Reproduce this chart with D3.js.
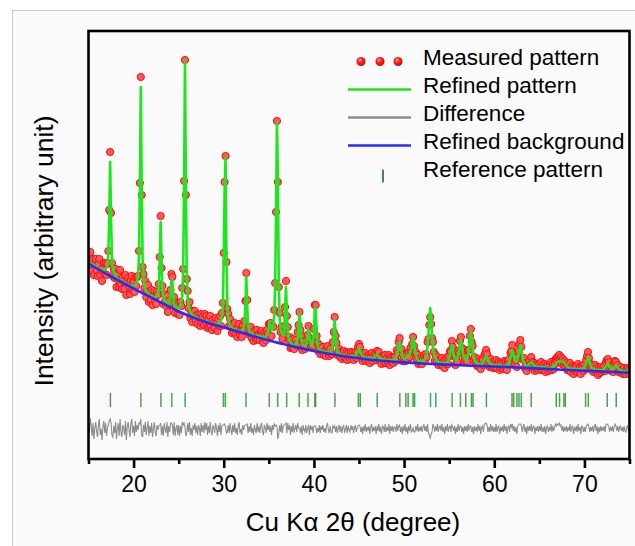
<!DOCTYPE html>
<html><head><meta charset="utf-8">
<script src="https://cdn.jsdelivr.net/npm/d3@7/dist/d3.min.js"></script>
<style>
html,body{margin:0;padding:0;background:#fff;}
svg{display:block;font-family:"Liberation Sans",Arial,sans-serif;}
</style></head><body>
<svg id="chart" width="635" height="546"></svg>
<script>
// ---------------- data (intensity in arbitrary units) ----------------
// scan: 2theta from 15.0 to 75.0 deg, step 0.1 deg
const scanStart = 15.0;
const scanStep = 0.1;

// refined (calculated) pattern, one value per scan step
const calcIntensity = [
167,166,166,165,165,164,164,163,163,162,
161,161,160,160,159,159,158,158,159,160,
161,164,174,211,267,210,172,161,157,155,
153,152,150,150,149,149,148,148,147,147,
146,146,145,145,144,144,143,143,143,143,
144,144,144,146,148,154,172,241,342,240,
170,151,144,141,138,137,136,134,134,133,
133,132,132,131,132,132,133,135,142,168,
207,167,140,132,129,128,127,126,125,125,
127,133,149,148,131,125,123,122,122,121,
121,121,124,127,134,156,242,367,241,154,
132,124,120,117,116,114,114,113,112,112,
111,111,110,110,110,109,109,109,108,108,
108,107,107,107,106,106,106,105,105,105,
105,105,105,105,106,106,107,109,113,122,
172,242,271,171,123,111,107,104,103,102,
101,100,100,99,99,98,98,98,98,98,
98,99,100,105,124,152,124,104,99,97,
96,95,95,94,94,93,93,93,93,92,
93,93,92,92,92,92,92,93,93,96,
101,108,103,99,99,103,114,143,213,306,
257,147,112,100,96,94,94,99,117,142,
117,96,90,88,87,86,84,84,84,84,
85,87,91,103,116,103,90,85,84,83,
83,84,86,93,100,93,86,83,84,87,
97,121,121,97,85,81,80,79,78,78,
78,77,77,77,77,77,77,77,77,78,
79,84,96,109,96,83,78,76,76,75,
74,74,74,74,74,73,73,73,73,73,
73,73,73,73,73,73,73,74,76,79,
81,79,76,74,73,72,72,71,71,71,
71,71,71,71,71,71,71,72,73,74,
75,74,72,71,70,70,70,70,69,69,
69,69,69,69,69,69,69,69,69,70,
70,71,74,78,84,87,83,78,73,71,
70,70,71,73,74,74,74,76,80,87,
91,86,79,74,71,69,68,68,68,68,
68,68,69,70,72,75,82,94,110,121,
110,94,82,75,71,71,69,67,67,67,
66,66,66,66,66,66,66,67,67,68,
71,75,80,84,80,75,71,69,69,70,
73,78,85,89,84,78,72,70,69,69,
70,74,81,90,97,90,81,74,69,68,
66,66,65,65,65,65,65,66,67,69,
71,73,71,69,67,65,65,64,64,64,
64,64,64,64,64,64,64,64,63,63,
63,63,63,64,64,65,66,68,71,76,
79,76,72,68,67,67,69,74,80,84,
79,73,68,66,64,64,63,63,64,65,
66,67,66,65,63,63,62,62,62,62,
62,62,62,62,62,62,62,62,61,61,
61,61,61,62,62,62,62,63,65,66,
67,67,68,68,68,67,67,67,66,65,
63,62,62,61,61,60,60,60,60,60,
60,60,60,60,60,60,60,60,60,61,
62,63,66,69,72,69,66,63,61,61,
60,60,59,59,59,59,59,59,59,59,
59,60,60,61,62,64,66,64,62,61,
60,60,60,61,63,64,63,61,60,59,
59,58,58,58,58,58,58,58,58,58,
58
];

// difference (measured - refined), one value per scan step
const diffIntensity = [
8,-4,11,3,-7,6,-10,1,7,-3,
-8,4,10,-6,0,-11,3,8,-4,6,
-7,1,4,8,10,6,-6,-8,3,-4,
7,-10,0,6,-7,10,-3,-8,4,1,
-6,8,-11,3,7,-1,-8,6,10,-4,
3,-7,8,-3,4,-1,6,5,10,-6,
-8,4,-3,7,-6,1,8,-7,3,-4,
6,-8,1,7,-4,-7,4,-1,3,4,
6,-6,3,-7,6,0,-4,7,-8,3,
-3,6,6,4,-6,7,-7,1,4,-6,
4,-7,3,-4,7,4,6,2,-7,-4,
6,-3,7,-6,1,-7,4,-1,6,-4,
3,-6,4,1,-7,6,-3,4,-4,7,
-1,6,-6,3,-4,7,-3,-6,4,1,
-4,6,1,-7,4,-3,6,-6,3,4,
4,5,2,-4,-3,4,-4,6,-1,-6,
4,-3,6,-4,1,-6,3,7,-4,0,
-6,4,-1,3,4,4,5,-4,3,-3,
6,-4,1,-6,4,-1,-4,6,-3,3,
-4,3,6,-3,-6,4,1,-4,6,-1,
4,-3,3,-6,4,-1,5,3,4,2,
-10,-5,4,-3,6,-4,3,4,5,6,
-4,6,-1,4,-6,3,-3,6,-4,1,
4,-3,6,1,1,-4,3,-6,4,-1,
-3,4,-4,1,3,-6,4,-1,3,-4,
3,3,3,-4,1,-3,4,-4,3,-1,
4,-3,1,-4,3,6,-1,-4,3,-3,
-4,3,1,3,-3,3,-4,1,4,-3,
3,-4,1,4,-3,-1,4,-4,3,-1,
-3,4,-1,3,-4,1,4,-3,1,3,
4,3,-3,2,-5,3,-2,5,-3,2,
-2,3,-5,2,5,-3,2,-2,3,-5,
3,-2,5,-3,2,-5,3,2,-3,5,
-3,2,-2,5,-5,3,-2,3,-3,2,
2,-3,5,-2,3,4,-3,2,-5,3,
-2,5,-3,2,-5,3,-2,5,-3,-2,
1,-3,-3,3,-2,5,-3,2,-2,3,
-3,2,5,-2,3,-3,5,-4,-6,-9,
-5,-3,5,2,-3,3,-2,5,-3,2,
3,-2,5,-3,2,-5,3,-2,5,-3,
2,3,-3,4,2,-2,3,-5,2,-3,
5,-2,3,3,-3,2,-5,3,-2,3,
-3,5,-2,3,3,-3,2,-5,3,-2,
2,-3,5,-2,3,-5,2,3,-3,5,
5,6,4,-3,2,-3,5,-2,3,-3,
2,-3,5,-3,2,3,-5,2,-2,3,
-3,5,-2,3,-5,2,3,-3,5,2,
5,-2,3,-3,2,-5,3,4,5,5,
3,-3,2,5,-3,2,-5,3,-2,3,
-2,5,-3,2,3,-5,2,-2,3,-3,
3,-2,5,-3,2,-3,3,-5,2,3,
-3,2,-2,5,-3,3,-2,2,5,3,
5,4,6,3,4,-2,3,-3,2,-2,
3,-3,2,-2,5,-3,2,3,-5,2,
-2,3,-3,5,-2,2,-5,3,2,-3,
2,-3,3,4,5,2,-3,2,-2,3,
-3,2,5,-2,3,-5,2,-3,3,-2,
2,-2,3,-3,5,5,4,3,-3,2,
-2,3,-3,2,5,3,-2,3,-3,2,
3,-2,2,-3,3,-2,-3,2,3,-2,
2
];

// refined background
const bgTheta = [15,17.5,20,22.5,25,27.5,30,32.5,35,37.5,40,42.5,45,47.5,50,52.5,55,57.5,60,62.5,65,67.5,70,72.5,75];
const bgIntensity = [165.5,152.5,140.5,129,117.5,108.5,101.5,95,88.5,83,78,74,70.8,68.3,66.6,65.3,64.3,63.3,62.5,61.5,60.5,59.3,58.3,57.2,56.3];

// reference pattern (Bragg positions)
const refTheta = [17.43,20.81,23.03,24.24,25.72,29.96,30.18,32.47,35.05,35.98,36.98,38.37,39.34,40.1,40.18,42.33,
  44.93,45.14,47.02,49.53,50.2,50.45,51.0,51.16,52.93,53.52,55.33,56.25,56.84,57.47,57.65,59.13,
  61.97,62.16,62.52,62.74,63.0,64.1,66.88,67.24,67.72,67.88,70.13,70.43,72.53,73.53];

const xMajorTicks = [20,30,40,50,60,70];
const xMinorTicks = [15,25,35,45,55,65,75];
const xDomain = [15,75];
const yDomain = [-30,398];
const legendLabels = ["Measured pattern","Refined pattern","Difference","Refined background","Reference pattern"];
const xTitle = "Cu K\u03b1 2\u03b8 (degree)";
const yTitle = "Intensity (arbitrary unit)";

// ---------------- drawing ----------------
const svg = d3.select("#chart");
const W = 635, H = 546;
const box = {left: 88.5, right: 629.5, top: 31, bottom: 459};

// page frame
svg.append("rect").attr("x",0).attr("y",0).attr("width",W).attr("height",H).attr("fill","#ffffff");
svg.append("rect").attr("x",12.5).attr("y",10.5).attr("width",W+40).attr("height",H+40)
  .attr("fill","#fafafa").attr("stroke","#c9c9c9").attr("stroke-width",1);

const x = d3.scaleLinear().domain(xDomain).range([box.left, box.right]);
const y = d3.scaleLinear().domain(yDomain).range([box.bottom, box.top]);

const data = calcIntensity.map((c, i) => ({
  t: +(scanStart + i*scanStep).toFixed(2),
  calc: c,
  diff: diffIntensity[i],
  obs: c + diffIntensity[i]
}));

svg.append("defs").append("clipPath").attr("id","clip")
  .append("rect").attr("x",box.left).attr("y",box.top)
  .attr("width",box.right-box.left).attr("height",box.bottom-box.top);

const plot = svg.append("g").attr("clip-path","url(#clip)");

// reference pattern ticks
plot.append("g").selectAll("line").data(refTheta).join("line")
  .attr("x1",d=>x(d)).attr("x2",d=>x(d))
  .attr("y1",y(36)).attr("y2",y(22))
  .attr("stroke","#1f8f1f").attr("stroke-width",1.5).attr("stroke-opacity",0.8);

// difference curve
plot.append("path").datum(data)
  .attr("fill","none").attr("stroke","#8c8c8c").attr("stroke-width",1.1)
  .attr("d", d3.line().x(d=>x(d.t)).y(d=>y(d.diff)));

// measured points
plot.append("g").selectAll("circle").data(data).join("circle")
  .attr("cx",d=>x(d.t)).attr("cy",d=>y(d.obs)).attr("r",3.6)
  .attr("fill","#ff5a5a").attr("stroke","#ff0a0a").attr("stroke-width",1);

// refined pattern
plot.append("path").datum(data)
  .attr("fill","none").attr("stroke","#1ee61e").attr("stroke-width",2.6)
  .attr("stroke-linejoin","round")
  .attr("d", d3.line().x(d=>x(d.t)).y(d=>y(d.calc)));

// background
plot.append("path").datum(bgTheta.map((t,i)=>({t, v: bgIntensity[i]})))
  .attr("fill","none").attr("stroke","#2a2aff").attr("stroke-width",2.6)
  .attr("d", d3.line().curve(d3.curveMonotoneX).x(d=>x(d.t)).y(d=>y(d.v)));

// axis box
svg.append("rect").attr("x",box.left).attr("y",box.top)
  .attr("width",box.right-box.left).attr("height",box.bottom-box.top)
  .attr("fill","none").attr("stroke","#000").attr("stroke-width",2.6);

// bottom axis
const gMajor = svg.append("g").attr("transform",`translate(0,${box.bottom})`)
  .call(d3.axisBottom(x).tickValues(xMajorTicks).tickSize(9).tickPadding(8).tickFormat(d3.format("d")));
const gMinor = svg.append("g").attr("transform",`translate(0,${box.bottom})`)
  .call(d3.axisBottom(x).tickValues(xMinorTicks).tickSize(5).tickFormat(""));
[gMajor,gMinor].forEach(g=>{
  g.select(".domain").remove();
  g.selectAll(".tick line").attr("stroke","#000").attr("stroke-width",2.6);
});
gMajor.selectAll(".tick text").attr("fill","#000").style("font-size","23px")
  .style("font-family","'Liberation Sans',Arial,sans-serif");

// axis titles
svg.append("text").attr("x",(box.left+box.right)/2-6).attr("y",531)
  .attr("text-anchor","middle").style("font-size","26px").attr("fill","#000").text(xTitle);
svg.append("text").attr("transform",`translate(53,251) rotate(-90)`)
  .attr("text-anchor","middle").style("font-size","26.5px").attr("fill","#000").text(yTitle);

// legend
const defs = svg.select("defs");
const grad = defs.append("radialGradient").attr("id","ball").attr("cx","40%").attr("cy","35%").attr("r","65%");
grad.append("stop").attr("offset","0%").attr("stop-color","#ff9a9a");
grad.append("stop").attr("offset","45%").attr("stop-color","#ff2020");
grad.append("stop").attr("offset","100%").attr("stop-color","#d40000");

const lg = svg.append("g");
const legTextX = 423, legBase0 = 64.5, legStep = 28;
const symX0 = 348, symX1 = 411;
lg.selectAll("text").data(legendLabels).join("text")
  .attr("x",legTextX).attr("y",(d,i)=>legBase0+i*legStep)
  .style("font-size","22.5px").attr("fill","#000").text(d=>d);
// measured symbol
lg.selectAll("circle").data([361,380,398]).join("circle")
  .attr("cx",d=>d).attr("cy",legBase0-3).attr("r",4.5).attr("fill","url(#ball)");
// line symbols
const lineSyms = [{i:1,c:"#1ee61e"},{i:2,c:"#8c8c8c"},{i:3,c:"#2a2aff"}];
lg.selectAll("line.sym").data(lineSyms).join("line").attr("class","sym")
  .attr("x1",symX0).attr("x2",symX1)
  .attr("y1",d=>legBase0+d.i*legStep-3).attr("y2",d=>legBase0+d.i*legStep-3)
  .attr("stroke",d=>d.c).attr("stroke-width",2.6);
lg.append("line").attr("x1",383).attr("x2",383)
  .attr("y1",legBase0+4*legStep-7).attr("y2",legBase0+4*legStep+6)
  .attr("stroke","#1f8f1f").attr("stroke-width",1.8);
</script>
</body></html>
